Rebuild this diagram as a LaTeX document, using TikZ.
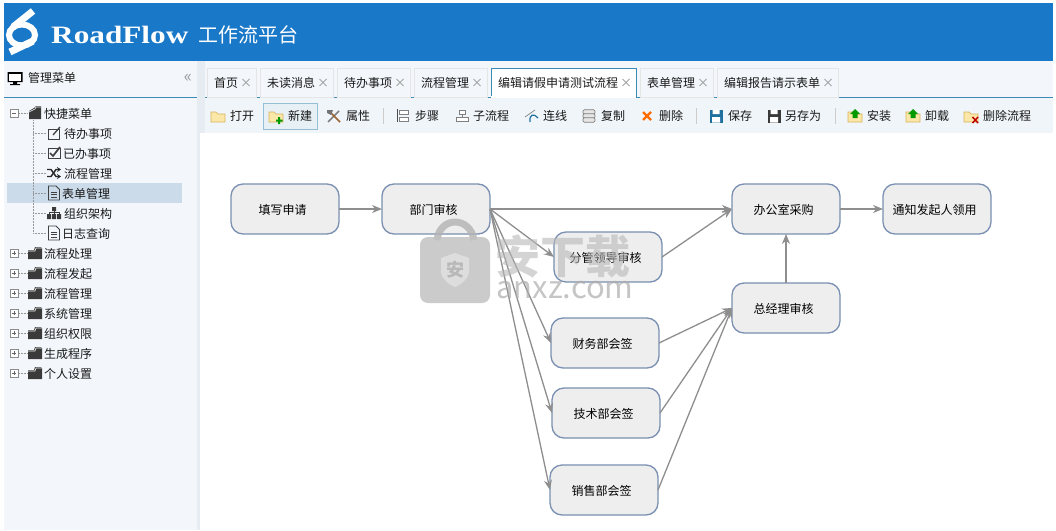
\documentclass[tikz,border=0pt]{standalone}
\usepackage{fontspec}
\usepackage{graphicx}
\setmainfont{Noto Sans CJK SC}
\newfontfamily\logofont{Liberation Serif}
\usetikzlibrary{positioning, arrows.meta}

\definecolor{headblue}{HTML}{1A78C9}
\definecolor{panelbg}{HTML}{F3F7FC}
\definecolor{splitbar}{HTML}{E6ECF2}
\definecolor{rulecol}{HTML}{3C8AB5}
\definecolor{rowsel}{HTML}{CCDBEA}
\definecolor{nodeline}{HTML}{7A90B2}
\definecolor{nodefill}{HTML}{EEEEEE}
\definecolor{linecol}{HTML}{8E8E8E}
\definecolor{darkicon}{HTML}{3A3A3A}
\definecolor{folderfill}{HTML}{FBE7A8}
\definecolor{folderline}{HTML}{D8B25E}
\definecolor{saveblue}{HTML}{1F6F9F}

\tikzset{
	flownode/.style={draw=nodeline, fill=nodefill, line width=1.3pt, rounded corners=12pt,
		minimum width=108pt, minimum height=50pt, inner sep=0pt, outer sep=0pt, text=black,
		execute at end node={\hspace{5pt}}, text depth=-1pt},
	flowline/.style={draw=linecol, line width=1.3pt, -{Stealth[length=10pt,width=8pt]}},
	tabbox/.style={draw=#1, fill=panelbg, line width=.6pt, minimum height=29pt, inner xsep=7pt, inner ysep=0pt, outer sep=0pt, text=black!90},
	tabbox/.default={black!10},
	menutext/.style={anchor=west, inner sep=0pt, text=black!90},
	tooltext/.style={inner sep=0pt, text=black!90},
	treeline/.style={draw=black!40, densely dotted, line width=.5pt},
	tabclose/.pic={\draw[black!35, line width=.8pt] (-3.5,-3.5) -- (3.5,3.5) (-3.5,3.5) -- (3.5,-3.5);},
	plusbox/.pic={\draw[black!45, fill=white, line width=.6pt] (-4,-4) rectangle (4,4);
		\draw[black!60, line width=.7pt] (-2,0) -- (2,0) (0,-2) -- (0,2);},
	minusbox/.pic={\draw[black!45, fill=white, line width=.6pt] (-4,-4) rectangle (4,4);
		\draw[black!60, line width=.7pt] (-2,0) -- (2,0);},
	darkfolder/.pic={\fill[darkicon] (-7,6) -- (-7,-3) -- (-1,-3) -- (0,-6) -- (6,-6) -- (7,-5) -- (7,6) -- cycle;
		\draw[white, line width=.6pt] (-7,-2) -- (0,-2) -- (1,-5) -- (7,-5);},
	openfolder/.pic={\fill[darkicon] (-6,6) -- (-6,-2) -- (-1,-5) -- (1,-7) -- (6,-7) -- (6,6) -- cycle;
		\draw[white, line width=.6pt] (-6,-1) -- (0,-4) -- (1,-6) -- (6,-6);},
	yfolder/.pic={\draw[folderline, fill=folderfill, line width=.7pt] (-7,-4) -- (-2,-4) -- (0,-2) -- (7,-2) -- (7,6) -- (-7,6) -- cycle;},
	newicon/.pic={\pic {yfolder}; \fill[green!60!black] (2,1) rectangle (4,8) (-0,3.5) rectangle (6.5,5.5);},
	toolsicon/.pic={\draw[black!50, line width=1.6pt] (-6,6) -- (5,-5);
		\draw[brown!80!black, line width=1.6pt] (6,6) -- (-3,-3);
		\fill[black!55] (-7,-6) -- (-1,-6) -- (-3,-1) -- (-7,-3) -- cycle;},
	stepicon/.pic={\draw[black!70, line width=.8pt] (-6,-7) -- (-6,6);
		\draw[black!50, fill=white, line width=.7pt] (-4,-6) rectangle (5,-2) (-4,1) rectangle (5,5);},
	subicon/.pic={\draw[black!50, fill=white, line width=.7pt] (-3,-6) rectangle (3,-2) (-6,1) rectangle (6,5);
		\draw[black!50, line width=.7pt] (0,-2) -- (0,1);},
	linkicon/.pic={\draw[black!50, line width=.7pt] (-6,1) -- (4,-6);
		\draw[saveblue, line width=1.2pt] (-1,6) .. controls (-2,-2) and (3,-3) .. (7,2);},
	copyicon/.pic={\foreach \v in {-4,0,4} {\draw[black!50, fill=black!10, line width=.7pt, rounded corners=1.5pt] (-6,\v-2.3) rectangle (6,\v+2.3);}},
	delicon/.pic={\draw[orange!85!red, line width=2.4pt] (-4,-4) -- (4,4) (-4,4) -- (4,-4);},
	saveicon/.pic={\fill[#1] (-6.5,-6.5) rectangle (6.5,6.5);
		\fill[white] (-3.5,-6.5) rectangle (3.5,-2) (-4,1) rectangle (4,6.5);},
	setupicon/.pic={\pic {yfolder}; \fill[green!60!black] (0,-7) -- (5,-2) -- (2.5,-2) -- (2.5,2) -- (-2.5,2) -- (-2.5,-2) -- (-5,-2) -- cycle;},
	delflowicon/.pic={\pic {yfolder}; \draw[red!75!black, line width=1.5pt] (1.5,1) -- (7,7) (1.5,7) -- (7,1);},
	screenicon/.pic={\fill[black] (-7.5,-6) rectangle (7.5,4) (-2,4) rectangle (2,6) (-5,6) rectangle (5,7);
		\fill[white] (-6,-4.5) rectangle (6,2.5);},
	editicon/.pic={\draw[black!75, line width=.9pt] (-6,-4) rectangle (5,6);
		\draw[black!75, line width=1.3pt] (-1,2) -- (6,-6);},
	checkicon/.pic={\draw[black!75, line width=1pt] (-6,-5) rectangle (6,5);
		\draw[black!75, line width=1.7pt] (-4,0) -- (-1,3) -- (6,-6);},
	shuffleicon/.pic={\draw[black!85, line width=1.4pt, -{Stealth[length=4pt,width=5pt]}] (-7,3.5) -- (-3,3.5) -- (2,-3.5) -- (7,-3.5);
		\draw[black!85, line width=1.4pt, -{Stealth[length=4pt,width=5pt]}] (-7,-3.5) -- (-3,-3.5) -- (2,3.5) -- (7,3.5);},
	pageicon/.pic={\draw[black!75, line width=.9pt] (-5.5,-7) -- (2,-7) -- (5.5,-3.5) -- (5.5,7) -- (-5.5,7) -- cycle;
		\draw[black!75, line width=.8pt] (-3,-1) -- (3,-1) (-3,1.5) -- (3,1.5) (-3,4) -- (3,4);},
	orgicon/.pic={\fill[darkicon] (-2,-6) rectangle (2,-2) (-7,1) rectangle (-3,6) (-2,1) rectangle (2,6) (3,1) rectangle (7,6);
		\draw[darkicon, line width=.8pt] (-5,1) -- (-5,-.5) -- (5,-.5) -- (5,1) (0,-2) -- (0,1);},
	every node/.style={font=\fontsize{12}{12}\selectfont}
}

\begin{document}
\begin{tikzpicture}[x=1pt, y=-1pt]
	\useasboundingbox (0,0) rectangle (1056,530);
	\fill[white] (0,0) rectangle (1056,530);

	% header
	\fill[headblue] (4,3) rectangle (1053,61);
	\draw[white, line width=6pt] (22,35) ellipse (13 and 10.5);
	\draw[white, line width=7pt] (33,11) -- (13,27);
	\draw[white, line width=7pt] (10,52) -- (33,41);
	\node[anchor=west, inner sep=0pt, text=white] (brand) at (51,35) {\scalebox{1.25}[1]{\logofont\bfseries\fontsize{25}{25}\selectfont RoadFlow}};
	\node[right=10pt of brand, inner sep=0pt, text=white, font=\fontsize{20}{20}\selectfont] (product) {工作流平台};

	% side panel and bars
	\fill[panelbg] (4,61) rectangle (197,530);
	\fill[splitbar] (197,61) rectangle (205,530);
	\fill[panelbg] (205,61) rectangle (1053,97);
	\fill[black!1!panelbg] (205,98) rectangle (1053,133);
	\fill[white] (200,133) rectangle (1053,530);
	\draw[rulecol, line width=.8pt] (4,97) -- (197,97) (205,97) -- (1053,97);

	\pic at (15,78) {screenicon};
	\node[menutext] (menutitle) at (28,78) {管理菜单};
	\node[text=black!40, inner sep=0pt, font=\fontsize{17}{17}\selectfont] (collapse) at (188,78) {«};

	% tabs
	\node[tabbox, anchor=west] (tab1) at (207,82.5) {\mbox{首页\hspace{11pt}}};
	\node[tabbox, right=4pt of tab1] (tab2) {\mbox{未读消息\hspace{11pt}}};
	\node[tabbox, right=4pt of tab2] (tab3) {\mbox{待办事项\hspace{11pt}}};
	\node[tabbox, right=4pt of tab3] (tab4) {\mbox{流程管理\hspace{11pt}}};
	\node[tabbox=rulecol, fill=white, right=4pt of tab4] (tab5) {\mbox{编辑请假申请测试流程\hspace{11pt}}};
	\node[tabbox, right=4pt of tab5] (tab6) {\mbox{表单管理\hspace{11pt}}};
	\node[tabbox, right=4pt of tab6] (tab7) {\mbox{编辑报告请示表单\hspace{11pt}}};
	\foreach \n in {1,...,7} \pic at ([xshift=-10pt]tab\n.east) {tabclose};
	\draw[white, line width=1.4pt] (tab5.south west) -- (tab5.south east);

	% toolbar
	\draw[rulecol!55, fill=rulecol!13, line width=.7pt] (263.5,103.5) rectangle (317,129);
	\foreach \x/\lbl [count=\n] in {242/打开, 300/新建, 358/属性, 427/步骤, 491/子流程, 555/连线, 613/复制, 671/删除,
		740/保存, 803/另存为, 879/安装, 937/卸载, 1007/删除流程}
		\node[tooltext] (tool\n) at (\x,116) {\lbl};
	\pic at (218,116) {yfolder};
	\pic at (276,116) {newicon};
	\pic at (334,116) {toolsicon};
	\pic at (403,116) {stepicon};
	\pic at (462,116) {subicon};
	\pic at (531,116) {linkicon};
	\pic at (589,116) {copyicon};
	\pic at (647,116) {delicon};
	\pic at (716,116) {saveicon=saveblue};
	\pic at (774,116) {saveicon=darkicon};
	\pic at (855,116) {setupicon};
	\pic at (913,116) {setupicon};
	\pic at (971,116) {delflowicon};
	\foreach \x in {383,696,835} \draw[black!20, line width=.7pt] (\x,108) -- (\x,124);

	% menu tree
	\fill[rowsel] (7,183) rectangle (182,203);
	\draw[treeline] (33,120) -- (33,233);
	\foreach \y in {133,153,...,233} \draw[treeline] (33,\y) -- (46,\y);
	\foreach \y in {113,253,273,...,373} \draw[treeline] (19,\y) -- (27,\y);
	\pic at (14,113) {minusbox};
	\pic at (35,113) {openfolder};
	\node[menutext] (quick) at (44,113.7) {快捷菜单};
	\foreach \y/\ic/\lbl/\tx in {133/editicon/待办事项/64, 153/checkicon/已办事项/63, 173/shuffleicon/流程管理/64,
		193/pageicon/表单管理/62, 213/orgicon/组织架构/64, 233/pageicon/日志查询/62} {
		\pic at (54,\y) {\ic};
		\node[menutext] (item\y) at (\tx,\y+.7) {\lbl};
	}
	\foreach \y/\lbl in {253/流程处理, 273/流程发起, 293/流程管理, 313/系统管理, 333/组织权限, 353/生成程序, 373/个人设置} {
		\pic at (14,\y) {plusbox};
		\pic at (35,\y) {darkfolder};
		\node[menutext] (group\y) at (44,\y+.7) {\lbl};
	}

	% flow
	\node[flownode] (apply) at (285,209) {填写申请};
	\node[flownode, right=43pt of apply] (dept) {部门审核};
	\node[flownode, right=64pt of dept, yshift=-48pt] (leader) {分管领导审核};
	\node[flownode, right=61pt of dept, yshift=-134pt] (finance) {财务部会签};
	\node[flownode, right=62pt of dept, yshift=-204pt] (tech) {技术部会签};
	\node[flownode, right=60pt of dept, yshift=-281pt] (sales) {销售部会签};
	\node[flownode, right=242pt of dept] (office) {办公室采购};
	\node[flownode, below=49pt of office] (manager) {总经理审核};
	\node[flownode, right=43pt of office] (notify) {通知发起人领用};

	\draw (apply) edge[flowline] (dept);
	\draw (dept.east) edge[flowline] (office.west);
	\draw (dept.east) edge[flowline] (leader.west);
	\draw (dept.east) edge[flowline] (finance.west);
	\draw (dept.east) edge[flowline] (tech.west);
	\draw (dept.east) edge[flowline] (sales.west);
	\draw (leader.east) edge[flowline] (office.west);
	\draw (finance.east) edge[flowline] (manager.west);
	\draw (tech.east) edge[flowline] (manager.west);
	\draw (sales.east) edge[flowline] (manager.west);
	\draw (manager) edge[flowline] (office);
	\draw (office) edge[flowline] (notify);

	% watermark
	\draw[black!30, opacity=.8, line width=7pt] (437,240) .. controls (440,216) and (470,216) .. (474,240);
	\fill[black!24, opacity=.85, rounded corners=8pt] (420,237) rectangle (490,303);
	\fill[white, opacity=.35] (441,258) -- (455,253) -- (469,258) -- (469,272) .. controls (468,280) and (460,285) .. (455,287) .. controls (450,285) and (442,280) .. (441,272) -- cycle;
	\node[text=black!28, font=\fontsize{18}{18}\bfseries, inner sep=0pt] (markan) at (455,270) {安};
	\node[text=black!28, opacity=.6, font=\fontsize{45}{45}\bfseries, inner sep=0pt] (marktext) at (563,257) {安下载};
	\node[text=black!32, opacity=.7, font=\fontsize{31}{31}\selectfont, inner sep=0pt] (markurl) at (565,290) {anxz.com};
\end{tikzpicture}
\end{document}
